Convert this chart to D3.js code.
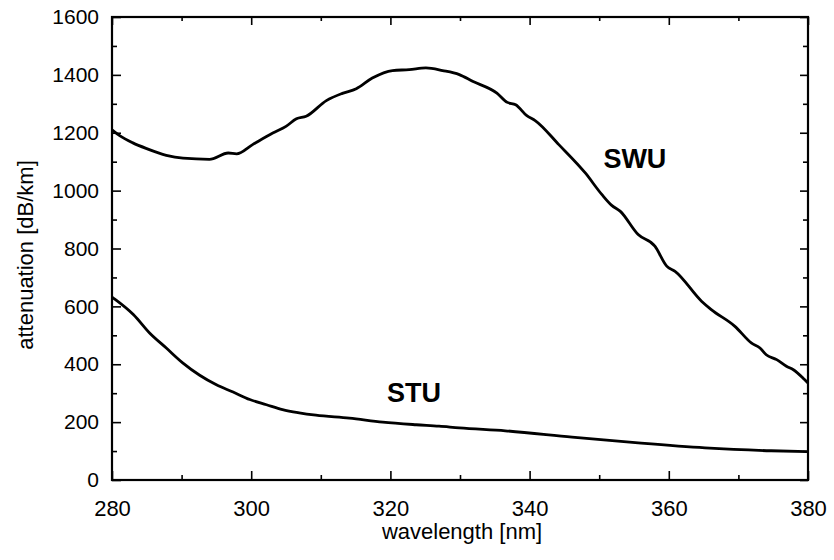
<!DOCTYPE html>
<html>
<head>
<meta charset="utf-8">
<script src="https://cdn.jsdelivr.net/npm/d3@7"></script>
<style>
    html, body { margin: 0; padding: 0; background: #fff; }
    svg { display: block; font-family: "Liberation Sans", Arial, sans-serif; }
</style>
</head>
<body>
<svg id="chart" width="834" height="560"></svg>
<script>
    // wavelength [nm] / attenuation [dB/km]
    var swuWavelength = [280, 281.1, 283, 285, 287.8, 290.2, 294, 296.7, 297.9, 300.2, 303.1, 305, 306.5, 307.9,
        310.8, 313.1, 315.1, 317.4, 320.3, 322.7, 325.1, 327.5, 329.9, 331.8, 335.3, 336.8, 338, 339.6, 340.8,
        344.2, 348, 350.4, 351.8, 353, 355.6, 358, 359.7, 360.9, 364.7, 366.1, 369.5, 371.9, 373.1, 374,
        375.5, 376.9, 377.9, 379.5, 380];
    var swuValues = [1210, 1190, 1165, 1145, 1122, 1112, 1108, 1130, 1127, 1159, 1199, 1222, 1248, 1257,
        1311, 1336, 1352, 1389, 1415, 1418, 1424, 1415, 1401, 1378, 1337, 1305, 1297, 1259, 1242,
        1159, 1061, 986, 949, 929, 848, 808, 739, 721, 618, 589, 531, 473, 456, 433,
        416, 393, 381, 347, 335];

    var stuWavelength = [280, 280.4, 283.1, 285.4, 287.8, 290.2, 292.6, 295, 297.4, 299.8, 302.2, 304.5,
        306.9, 309.3, 314.1, 318.9, 323.7, 327, 329.9, 336.5, 346.1, 355.6, 365.2, 374.7, 380];
    var stuValues = [632, 625, 571, 508, 456, 404, 362, 329, 304, 278, 260, 243,
        232, 224, 214, 200, 191, 186, 180, 170, 148, 128, 111, 101, 98];

    var xMajorTicks = [280, 300, 320, 340, 360, 380];
    var xMinorTicks = [290, 310, 330, 350, 370];
    var yMajorTicks = [0, 200, 400, 600, 800, 1000, 1200, 1400, 1600];
    var yMinorTicks = [100, 300, 500, 700, 900, 1100, 1300, 1500];

    var seriesLabels = [
        { name: 'SWU', x: 350.6, y: 1078 },
        { name: 'STU', x: 319.5, y: 270 }
    ];

    var margin = { top: 17, right: 26, bottom: 80, left: 112 };
    var width = 834 - margin.left - margin.right;
    var height = 560 - margin.top - margin.bottom;

    var svg = d3.select('#chart');
    var g = svg.append('g').attr('transform', 'translate(' + margin.left + ',' + margin.top + ')');

    var x = d3.scaleLinear().domain([280, 380]).range([0, width]);
    var y = d3.scaleLinear().domain([0, 1600]).range([height, 0]);

    function styleAxis(sel) {
        sel.select('.domain').remove();
        sel.selectAll('.tick line').attr('stroke', '#000').attr('stroke-width', 1.6);
    }

    // bottom axis with labels, ticks pointing inward
    g.append('g')
        .attr('transform', 'translate(0,' + height + ')')
        .call(d3.axisBottom(x).tickValues(xMajorTicks).tickSizeInner(-9).tickPadding(20).tickFormat(d3.format('d')))
        .call(styleAxis)
        .selectAll('text')
        .attr('font-size', '22px')
        .attr('fill', '#000');

    g.append('g')
        .attr('transform', 'translate(0,' + height + ')')
        .call(d3.axisBottom(x).tickValues(xMinorTicks).tickSizeInner(-5).tickFormat(''))
        .call(styleAxis);

    // top mirror ticks
    g.append('g')
        .call(d3.axisTop(x).tickValues(xMajorTicks).tickSizeInner(-8).tickFormat(''))
        .call(styleAxis);
    g.append('g')
        .call(d3.axisTop(x).tickValues(xMinorTicks).tickSizeInner(-4).tickFormat(''))
        .call(styleAxis);

    // left axis with labels
    g.append('g')
        .call(d3.axisLeft(y).tickValues(yMajorTicks).tickSizeInner(-9).tickPadding(13).tickFormat(d3.format('d')))
        .call(styleAxis)
        .selectAll('text')
        .attr('font-size', '21px')
        .attr('fill', '#000');

    g.append('g')
        .call(d3.axisLeft(y).tickValues(yMinorTicks).tickSizeInner(-5).tickFormat(''))
        .call(styleAxis);

    // right mirror ticks
    g.append('g')
        .attr('transform', 'translate(' + width + ',0)')
        .call(d3.axisRight(y).tickValues(yMajorTicks).tickSizeInner(-8).tickFormat(''))
        .call(styleAxis);
    g.append('g')
        .attr('transform', 'translate(' + width + ',0)')
        .call(d3.axisRight(y).tickValues(yMinorTicks).tickSizeInner(-5).tickFormat(''))
        .call(styleAxis);

    // frame
    g.append('rect')
        .attr('x', 0)
        .attr('y', 0)
        .attr('width', width)
        .attr('height', height)
        .attr('fill', 'none')
        .attr('stroke', '#000')
        .attr('stroke-width', 2.2);

    var line = d3.line()
        .x(function (d) { return x(d[0]); })
        .y(function (d) { return y(d[1]); })
        .curve(d3.curveMonotoneX);

    var series = [
        d3.zip(swuWavelength, swuValues),
        d3.zip(stuWavelength, stuValues)
    ];

    g.selectAll('.curve')
        .data(series)
        .enter()
        .append('path')
        .attr('class', 'curve')
        .attr('d', line)
        .attr('fill', 'none')
        .attr('stroke', '#000')
        .attr('stroke-width', 2.8)
        .attr('stroke-linejoin', 'round');

    g.selectAll('.series-label')
        .data(seriesLabels)
        .enter()
        .append('text')
        .attr('class', 'series-label')
        .attr('x', function (d) { return x(d.x); })
        .attr('y', function (d) { return y(d.y); })
        .attr('font-size', '27px')
        .attr('font-weight', 'bold')
        .attr('fill', '#000')
        .text(function (d) { return d.name; });

    // axis titles
    svg.append('text')
        .attr('x', margin.left + width / 2 + 2)
        .attr('y', 539)
        .attr('text-anchor', 'middle')
        .attr('font-size', '22px')
        .attr('fill', '#000')
        .text('wavelength [nm]');

    svg.append('text')
        .attr('transform', 'translate(33,255) rotate(-90)')
        .attr('text-anchor', 'middle')
        .attr('font-size', '22px')
        .attr('fill', '#000')
        .text('attenuation [dB/km]');
</script>
</body>
</html>
